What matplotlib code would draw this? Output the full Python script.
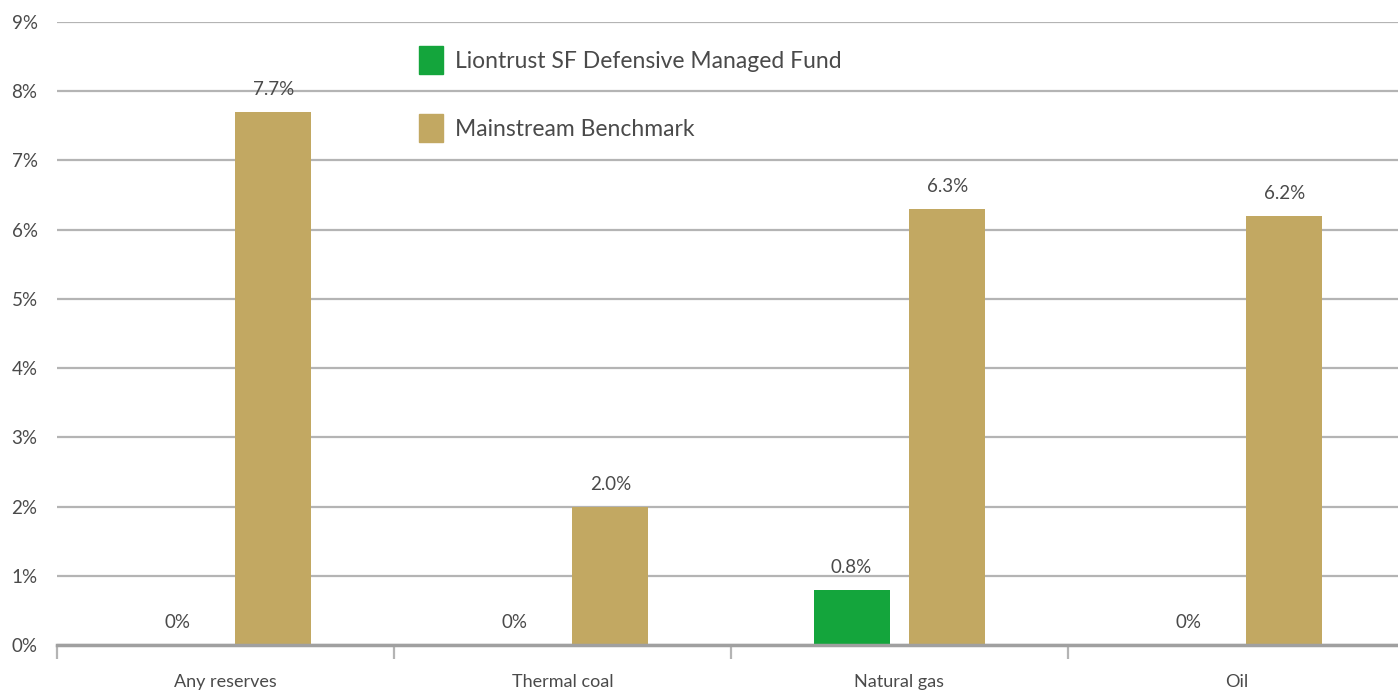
import numpy as np
import matplotlib
matplotlib.use("Agg")
import matplotlib.pyplot as plt
from matplotlib.patches import Patch

# ── Data ──
categories = ["Any reserves", "Thermal coal", "Natural gas", "Oil"]
fund_values = [0.0, 0.0, 0.8, 0.0]
bench_values = [7.7, 2.0, 6.3, 6.2]
fund_labels = ["0%", "0%", "0.8%", "0%"]
bench_labels = ["7.7%", "2.0%", "6.3%", "6.2%"]
series_names = ["Liontrust SF Defensive Managed Fund", "Mainstream Benchmark"]
y_ticks = list(range(0, 10))

GREEN = "#14a53c"
GOLD = "#c2a862"
TEXT = "#4a4a4a"
GRID = "#b4b4b4"

plt.rcParams["font.family"] = ["Lato", "DejaVu Sans"]

W, H = 1398, 692
fig = plt.figure(figsize=(W / 100, H / 100), dpi=100)
ax = fig.add_axes([57 / W, 1 - 645 / H, (1405 - 57) / W, (645 - 22) / H])

x = np.arange(len(categories))
bw = 0.2255
off = 0.1424
ax.bar(x - off, fund_values, bw, color=GREEN, zorder=3)
ax.bar(x + off, bench_values, bw, color=GOLD, zorder=3)

# value labels above bars
for xi, v, s in zip(x, fund_values, fund_labels):
    ax.annotate(s, (xi - off, v), xytext=(0, 10), textcoords="offset points",
                ha="center", va="bottom", fontsize=13.5, color=TEXT)
for xi, v, s in zip(x, bench_values, bench_labels):
    ax.annotate(s, (xi + off, v), xytext=(0, 10), textcoords="offset points",
                ha="center", va="bottom", fontsize=13.5, color=TEXT)

ax.set_xlim(-0.5, len(categories) - 0.5)
ax.set_ylim(0, 9)
ax.set_yticks(y_ticks)
ax.set_yticklabels([f"{t}%" for t in y_ticks])
ax.yaxis.grid(True, color=GRID, lw=1.6, zorder=0)
ax.tick_params(axis="y", length=0, pad=14, labelsize=13.5, labelcolor=TEXT)

ax.set_xticks(x)
ax.set_xticklabels(categories)
ax.tick_params(axis="x", which="major", length=0, pad=21, labelsize=13,
               labelcolor=TEXT)
ax.set_xticks(np.arange(len(categories) + 1) - 0.5, minor=True)
ax.tick_params(axis="x", which="minor", length=10, width=1.6, color=GRID)

for side in ["top", "right", "left"]:
    ax.spines[side].set_visible(False)
ax.spines["bottom"].set_color("#a0a0a0")
ax.spines["bottom"].set_linewidth(2.5)
ax.spines["bottom"].set_zorder(4)

handles = [Patch(color=GREEN), Patch(color=GOLD)]
ax.legend(handles, series_names, loc="upper left",
          bbox_to_anchor=((410 - 57) / (1405 - 57), 1 - 15 / (645 - 22)),
          frameon=False, fontsize=16.5, handlelength=1.05, handleheight=1.5,
          handletextpad=0.5, labelspacing=1.75, labelcolor=TEXT,
          borderaxespad=0)

fig.savefig("out.png", dpi=100)
